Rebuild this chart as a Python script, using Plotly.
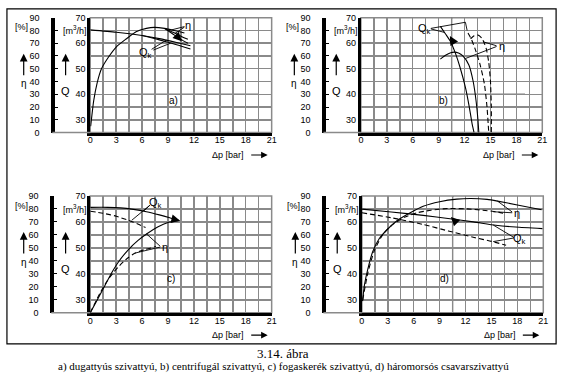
import plotly.graph_objects as go

W, H = 568, 384


def px(x):
    return x / W


def py(y):
    return 1 - y / H


# ---------------- data ----------------
dp_ticks = [0, 3, 6, 9, 12, 15, 18, 21]
q_ticks = [30, 40, 50, 60, 70]
eta_ticks = [0, 10, 20, 30, 40, 50, 60, 70, 80, 90]

# a) dugattyús szivattyú
a_eta_dp = [0.05, 0.4, 0.8, 1.3, 2.1, 3.0, 4.2, 5.3, 6.5, 7.4, 8.6, 9.7, 10.9]
a_eta = [5, 25, 39, 50, 59, 67, 73.5, 79, 81.6, 82.4, 81.6, 80, 78]
a_eta2_dp = [8.6, 9.6, 10.5, 11.3]
a_eta2 = [81.6, 78.5, 75.5, 73]
a_eta3_dp = [8.6, 9.6, 10.5, 11.3]
a_eta3 = [81.6, 77, 73, 70]
a_q_dp = [0, 3, 6, 8, 10, 11.6]
a_q = [65.2, 64.3, 63.0, 61.8, 60.3, 59.0]
a_q2_dp = [6, 8, 10, 11.6]
a_q2 = [63.0, 61.3, 59.4, 57.7]

# b) centrifugál szivattyú
b_q_dp = [9.2, 9.8, 10.4, 10.95, 11.5, 12.1, 12.55, 12.9, 13.1]
b_q = [66.6, 63.6, 60.5, 56, 50.3, 42.7, 35, 28, 25]
b_eta_dp = [9.2, 9.8, 10.4, 10.8, 11.3, 11.8, 12.5, 13.0, 13.35, 13.55, 13.65]
b_eta = [57.5, 60.5, 62.5, 63, 62.3, 60, 53, 40, 24, 10, 0]
b_q2_dp = [12.4, 12.8, 13.2, 13.8, 14.3, 14.6, 14.8]
b_q2 = [64, 61.5, 58, 51.6, 44, 35, 25]
b_eta2_dp = [12.7, 13.1, 13.5, 14.0, 14.5, 14.8, 15.0, 15.1, 15.1]
b_eta2 = [73.5, 75.8, 76.5, 74, 66, 55, 40, 20, 0]

# c) fogaskerék szivattyú
c_q_dp = [0, 2, 3.5, 5, 6.5, 8, 9.2, 10.3]
c_q = [65.6, 65.6, 65.4, 64.8, 63.9, 62.7, 61.6, 60.5]
c_eta_dp = [0, 0.9, 1.7, 2.5, 3.3, 4.4, 5.5, 6.6, 7.8, 9.0, 10.3]
c_eta = [0, 11, 21, 31, 39.5, 48.5, 55.5, 61, 66, 69.5, 71]
c_q2_dp = [0, 1.5, 3, 4.4, 5.5, 6.4]
c_q2 = [64.1, 63.3, 62.2, 60.6, 59.2, 57.8]
c_eta2_dp = [0, 1.2, 2.1, 3.2, 4.3, 5.2, 6.3, 7.6]
c_eta2 = [0, 16, 26, 35, 42, 46, 48.5, 51]

# d) háromorsós csavarszivattyú
d_eta_dp = [0.08, 0.3, 0.7, 1.25, 2.0, 3.0, 4.1, 5.6, 7.1, 9.0, 11.0, 12.6, 14.5, 15.7, 18.0, 20.8]
d_eta = [9, 21.5, 34, 47, 57, 64.5, 71, 77, 82, 85.5, 87.5, 88, 87.3, 86, 83, 79.3]
d_eta2_dp = [0.1, 0.7, 1.45, 2.4, 3.4, 4.9, 6.4, 8.0, 9.9, 12.2, 14.0, 15.8, 16.7]
d_eta2 = [10, 31, 48, 60, 67, 73.5, 77, 79, 80.3, 80, 79, 77.5, 76]
d_q_dp = [0, 3.4, 7.1, 10.2, 12.9, 15.5, 17.8, 20.9]
d_q = [64.9, 63.8, 62.5, 61.2, 60.0, 58.7, 58.0, 57.4]
d_q2_dp = [0, 3.4, 7.1, 10.0, 13.0, 15.0, 16.7]
d_q2 = [63.5, 61.6, 59.0, 56.5, 54.0, 52.5, 51.0]

panel_letters = ["a)", "b)", "c)", "d)"]
caption = "3.14. ábra"
subcaption = ("a) dugattyús szivattyú, b) centrifugál szivattyú, "
              "c) fogaskerék szivattyú, d) háromorsós csavarszivattyú")

# curves per panel: (dp, values, axis kind, dashed)
curves = [
    [(a_eta_dp, a_eta, "eta", False), (a_eta2_dp, a_eta2, "eta", False),
     (a_eta3_dp, a_eta3, "eta", False), (a_q_dp, a_q, "q", False),
     (a_q2_dp, a_q2, "q", False)],
    [(b_q_dp, b_q, "q", False), (b_eta_dp, b_eta, "eta", False),
     (b_q2_dp, b_q2, "q", True), (b_eta2_dp, b_eta2, "eta", True)],
    [(c_q_dp, c_q, "q", False), (c_eta_dp, c_eta, "eta", False),
     (c_q2_dp, c_q2, "q", True), (c_eta2_dp, c_eta2, "eta", True)],
    [(d_eta_dp, d_eta, "eta", False), (d_eta2_dp, d_eta2, "eta", True),
     (d_q_dp, d_q, "q", False), (d_q2_dp, d_q2, "q", True)],
]

# ---------------- styling / layout ----------------
GRID = "#8a8a8a"
SANS = "Liberation Sans, Arial, sans-serif"
SERIF = "Liberation Serif, Times New Roman, serif"
TICKFONT = dict(family=SANS, size=9, color="black")

# panel geometry in pixels: Q-axis x, right x, top y, bottom y, eta-axis x
geo = [
    (88.5, 272.5, 13, 131, 50),
    (363, 547, 13, 131, 325),
    (88.5, 272.5, 196, 316, 49),
    (364, 548, 196, 316, 325),
]

# label annotations (data coords on Q scale)
labels = [
    [("η", 11.3, 67.2), ("Q<sub>k</sub>", 6.4, 56.0)],
    [("Q<sub>k</sub>", 7.4, 65.4), ("η", 16.3, 58.8)],
    [("Q<sub>k</sub>", 7.5, 67.3), ("η", 8.7, 50.4)],
    [("η", 17.9, 63.6), ("Q<sub>k</sub>", 18.3, 53.4)],
]
letter_pos = [(9.6, 37.6), (9.6, 37.6), (9.3, 38.1), (9.6, 38.2)]
leaders = [
    [[(10.9, 66.5), (9.4, 65.2)], [(10.9, 66.3), (9.8, 63.8)],
     [(7.1, 57.6), (8.8, 61.2)], [(7.3, 57.3), (9.3, 60.0)]],
    [[(8.1, 65.6), (9.7, 64.2)], [(8.1, 65.8), (12.1, 68.2), (12.3, 65.0)],
     [(15.7, 59.0), (14.2, 60.5)], [(15.7, 58.7), (12.1, 54.0)]],
    [[(6.9, 66.4), (4.8, 60.6)], [(6.9, 66.4), (6.2, 64.2)],
     [(8.1, 50.6), (6.5, 55.4)], [(8.1, 50.3), (5.2, 48.0)]],
    [[(15.7, 68.0), (17.4, 63.8)], [(15.2, 63.9), (17.4, 63.5)],
     [(15.2, 58.8), (17.6, 54.0)], [(15.2, 52.4), (17.6, 53.8)]],
]
# filled direction arrows: tip (dp, Q), tail offset (px)
tri = [((10.6, 60.8), -6, -6), ((10.3, 62.8), 4, 7),
       ((10.4, 60.4), -8, -2), ((10.3, 61.9), 5, 5)]
# black (darker) grid segments
dark = [
    [("h", 40, 4.5, 19.5), ("h", 35, 0, 21), ("v", 6, 25, 55)],
    [("h", 40, 4.5, 19), ("h", 35, 0, 21), ("v", 10.5, 25, 70)],
    [("h", 40, 0, 21), ("v", 10.5, 25, 60)],
    [("h", 40, 0, 21), ("v", 10.5, 25, 70)],
]

fig = go.Figure()
layout = dict(
    width=W, height=H, margin=dict(l=0, r=0, t=0, b=0),
    paper_bgcolor="white", plot_bgcolor="white", showlegend=False,
    font=dict(family=SANS, size=9, color="black"),
)
shapes = []
annotations = []
BLK = "black"


def paper_text(text, x, y, size, xanchor="center", family=SANS):
    return dict(text=text, x=px(x), y=py(y), xref="paper", yref="paper",
                xanchor=xanchor, yanchor="middle", showarrow=False,
                font=dict(family=family, size=size, color=BLK))


for i, (x0, x1, y0, y1, ex) in enumerate(geo):
    n = i + 1
    xname = "xaxis" if n == 1 else f"xaxis{n}"
    xref = "x" if n == 1 else f"x{n}"
    qi, ei = 2 * i + 1, 2 * i + 2
    qname = "yaxis" if qi == 1 else f"yaxis{qi}"
    qref = "y" if qi == 1 else f"y{qi}"
    ename = f"yaxis{ei}"
    eref = f"y{ei}"

    layout[xname] = dict(
        domain=[px(x0), px(x1)], anchor=qref, range=[0, 21],
        tickvals=dp_ticks, ticks="", showgrid=True, gridcolor=GRID, gridwidth=1.5,
        minor=dict(tick0=0, dtick=1.5, showgrid=True, gridcolor=GRID, gridwidth=1.5),
        showline=True, linecolor=BLK, linewidth=3, zeroline=False,
        tickfont=TICKFONT, ticklabelstandoff=-3, fixedrange=True,
    )
    layout[qname] = dict(
        domain=[py(y1), py(y0)], anchor=xref, range=[25, 70],
        tickvals=q_ticks, ticks="", showgrid=True, gridcolor=GRID, gridwidth=1.5,
        minor=dict(tick0=25, dtick=5, showgrid=True, gridcolor=GRID, gridwidth=1.5),
        showline=True, linecolor=BLK, linewidth=3, zeroline=False,
        tickfont=TICKFONT, ticklabelstandoff=0, fixedrange=True,
    )
    layout[ename] = dict(
        overlaying=qref, anchor="free", position=px(ex), side="left",
        range=[0, 90], tickvals=eta_ticks, showgrid=False, zeroline=False,
        showline=True, linecolor=BLK, linewidth=3.5,
        ticks="inside", ticklen=3, tickwidth=1, tickcolor=BLK,
        ticklabelstandoff=10, tickfont=TICKFONT, fixedrange=True,
    )

    # curves
    for dp, vals, kind, dashed in curves[i]:
        fig.add_trace(go.Scatter(
            x=dp, y=vals, mode="lines", xaxis=xref,
            yaxis=eref if kind == "eta" else qref,
            line=dict(color=BLK, width=1.1, dash="5px,3px" if dashed else "solid",
                      shape="spline", smoothing=0.6),
            hoverinfo="skip", showlegend=False,
        ))

    # right/top frame of grid
    shapes.append(dict(type="rect", xref=f"{xref} domain", yref=f"{qref} domain",
                       x0=0, x1=1, y0=0, y1=1, line=dict(color=GRID, width=1.5),
                       layer="below"))
    # eta zero line connecting to plot
    shapes.append(dict(type="line", xref="paper", yref="paper",
                       x0=px(ex), x1=px(x0), y0=py(y1), y1=py(y1),
                       line=dict(color=GRID, width=1.5)))
    # darker grid segments
    for kind, v, a0, a1 in dark[i]:
        if kind == "h":
            shapes.append(dict(type="line", xref=xref, yref=qref, x0=a0, x1=a1,
                               y0=v, y1=v, line=dict(color=BLK, width=1.2),
                               layer="below"))
        else:
            shapes.append(dict(type="line", xref=xref, yref=qref, x0=v, x1=v,
                               y0=a0, y1=a1, line=dict(color=BLK, width=1.2),
                               layer="below"))
    # leader lines
    for pts in leaders[i]:
        for (xa, ya), (xb, yb) in zip(pts[:-1], pts[1:]):
            shapes.append(dict(type="line", xref=xref, yref=qref, x0=xa, x1=xb,
                               y0=ya, y1=yb, line=dict(color=BLK, width=0.9)))
    # curve labels
    for txt, lx, ly in labels[i]:
        annotations.append(dict(text=txt, x=lx, y=ly, xref=xref, yref=qref,
                                xanchor="center", yanchor="middle",
                                showarrow=False, font=dict(family=SANS, size=11, color=BLK)))
    annotations.append(dict(text=panel_letters[i], x=letter_pos[i][0], y=letter_pos[i][1],
                            xref=xref, yref=qref, showarrow=False,
                            xanchor="center", yanchor="middle",
                            font=dict(family=SANS, size=10, color=BLK)))
    # filled direction arrow
    (tx, ty), tax, tay = tri[i]
    annotations.append(dict(text="", x=tx, y=ty, xref=xref, yref=qref, showarrow=True,
                            ax=tax, ay=tay, arrowhead=2, arrowsize=1.1, arrowwidth=1.6,
                            arrowcolor=BLK))

    # axis titles
    annotations.append(paper_text("[%]", x0 - 61, y0 + 10, 9, xanchor="right"))
    annotations.append(paper_text("[m<sup>3</sup>/h]", x0 - 1, y0 + 13, 9, xanchor="right"))
    annotations.append(paper_text("η", x0 - 67.5, y0 + 68, 10))
    annotations.append(paper_text("Q", x0 - 25, y0 + 75, 11))
    for axx in (x0 - 67.5, x0 - 25):
        annotations.append(dict(text="", x=px(axx), y=py(y0 + 37), xref="paper", yref="paper",
                                showarrow=True, ax=0, ay=23, arrowhead=2, arrowsize=1.3,
                                arrowwidth=1.2, arrowcolor=BLK))
    annotations.append(paper_text("Δp [bar]", x0 + 158, y1 + 23, 9, xanchor="right"))
    annotations.append(dict(text="", x=px(x0 + 180), y=py(y1 + 23), xref="paper", yref="paper",
                            showarrow=True, ax=-18, ay=0, arrowhead=2, arrowsize=1.2,
                            arrowwidth=1.1, arrowcolor=BLK))

# outer frame
shapes.append(dict(type="rect", xref="paper", yref="paper", x0=px(4), x1=px(561),
                   y0=py(348), y1=py(4), line=dict(color=BLK, width=1.2)))

annotations.append(paper_text(caption, 284, 358, 13, family=SERIF))
annotations.append(paper_text(subcaption, 284, 371, 11, family=SERIF))

layout["shapes"] = shapes
layout["annotations"] = annotations
fig.update_layout(**layout)
fig.write_html(
    "out.html",
    config={"displayModeBar": False, "staticPlot": True},
    post_script="document.body.style.margin='0';document.body.style.overflow='hidden';",
)
